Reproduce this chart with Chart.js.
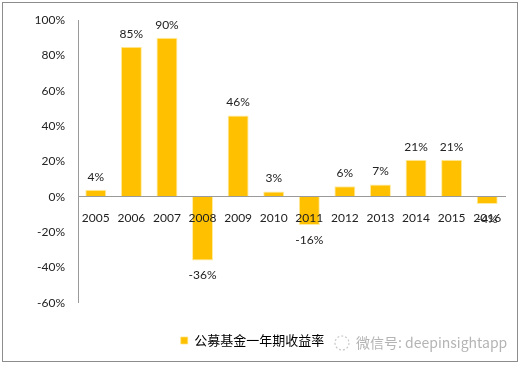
<!DOCTYPE html>
<html lang="zh">
<head>
    <meta charset="UTF-8">
    <title>公募基金一年期收益率</title>
    <script src="https://cdn.jsdelivr.net/npm/chart.js"></script>
    <style>
        html, body { margin: 0; padding: 0; background: #fff; }
        #wrap { width: 520px; height: 365px; position: relative; }
    </style>
</head>
<body>
<div id="wrap">
    <canvas id="fundChart" width="520" height="365"></canvas>
</div>

<script>
    const years = ["2005", "2006", "2007", "2008", "2009", "2010", "2011", "2012", "2013", "2014", "2015", "2016"];
    const returns = [4, 85, 90, -36, 46, 3, -16, 6, 7, 21, 21, -4];
    const yTicks = [-60, -40, -20, 0, 20, 40, 60, 80, 100];
    const seriesName = "公募基金一年期收益率";
    const watermark = "微信号: deepinsightapp";

    const barColor = '#FFC000';
    const textFont = 'Lato, "DejaVu Sans", sans-serif';

    // frame round the whole picture + watermark next to legend
    const framePlugin = {
        id: 'frame',
        beforeDraw(chart) {
            const ctx = chart.ctx;
            ctx.save();
            ctx.fillStyle = '#fff';
            ctx.fillRect(0, 0, chart.width, chart.height);
            ctx.strokeStyle = '#8c8c8c';
            ctx.lineWidth = 1;
            ctx.strokeRect(2.5, 2.5, 515, 359);
            ctx.restore();
        },
        afterDraw(chart) {
            const ctx = chart.ctx;
            ctx.save();
            // little logo
            ctx.strokeStyle = '#c8c8c8';
            ctx.lineWidth = 1.2;
            ctx.setLineDash([2, 2]);
            ctx.beginPath();
            ctx.arc(342, 343, 7, 0, Math.PI * 2);
            ctx.stroke();
            ctx.setLineDash([]);
            ctx.fillStyle = '#b4b4b4';
            ctx.font = '14px "Noto Sans CJK SC", sans-serif';
            ctx.textBaseline = 'middle';
            ctx.fillText(watermark, 356, 343);
            ctx.restore();
        }
    };

    // value labels above / below the bars
    const valueLabels = {
        id: 'valueLabels',
        afterDatasetsDraw(chart) {
            const ctx = chart.ctx;
            const meta = chart.getDatasetMeta(0);
            ctx.save();
            ctx.fillStyle = '#222';
            ctx.font = '12px ' + textFont;
            ctx.textAlign = 'center';
            ctx.textBaseline = 'middle';
            meta.data.forEach((bar, i) => {
                const v = returns[i];
                const y = v >= 0 ? bar.y - 13 : bar.y + 15;
                ctx.fillText(v + '%', bar.x, y);
            });
            ctx.restore();
        }
    };

    const ctx = document.getElementById('fundChart').getContext('2d');
    new Chart(ctx, {
        type: 'bar',
        data: {
            labels: years,
            datasets: [{
                label: seriesName,
                data: returns,
                backgroundColor: barColor,
                borderColor: 'rgba(255, 226, 120, 0.7)',
                borderWidth: 1,
                barPercentage: 0.59,
                categoryPercentage: 1.0
            }]
        },
        options: {
            responsive: false,
            animation: false,
            layout: { padding: { left: 0, right: 15, top: 14, bottom: 8 } },
            scales: {
                x: {
                    position: { y: 0 },
                    grid: { display: false, drawTicks: false },
                    border: { display: true, color: '#9a9a9a', z: 1 },
                    ticks: {
                        z: 1,
                        color: '#222',
                        font: { size: 12, family: textFont },
                        padding: 14,
                        maxRotation: 0,
                        autoSkip: false
                    }
                },
                y: {
                    min: -60,
                    max: 100,
                    afterBuildTicks(scale) {
                        scale.ticks = yTicks.map(v => ({ value: v }));
                    },
                    afterFit(scale) { scale.width = 78; },
                    grid: { display: false, drawTicks: false },
                    border: { display: true, color: '#9a9a9a' },
                    ticks: {
                        color: '#222',
                        font: { size: 12, family: textFont },
                        padding: 13,
                        callback: v => v + '%'
                    }
                }
            },
            plugins: {
                legend: {
                    position: 'bottom',
                    title: {
                        display: true,
                        text: ' ',
                        font: { size: 1 },
                        padding: { top: 16, bottom: 0 }
                    },
                    labels: {
                        boxWidth: 7,
                        boxHeight: 7,
                        color: '#000',
                        padding: 14,
                        font: { size: 13, family: '"Noto Sans CJK SC", sans-serif' }
                    }
                },
                tooltip: { enabled: false }
            }
        },
        plugins: [framePlugin, valueLabels]
    });
</script>
</body>
</html>
